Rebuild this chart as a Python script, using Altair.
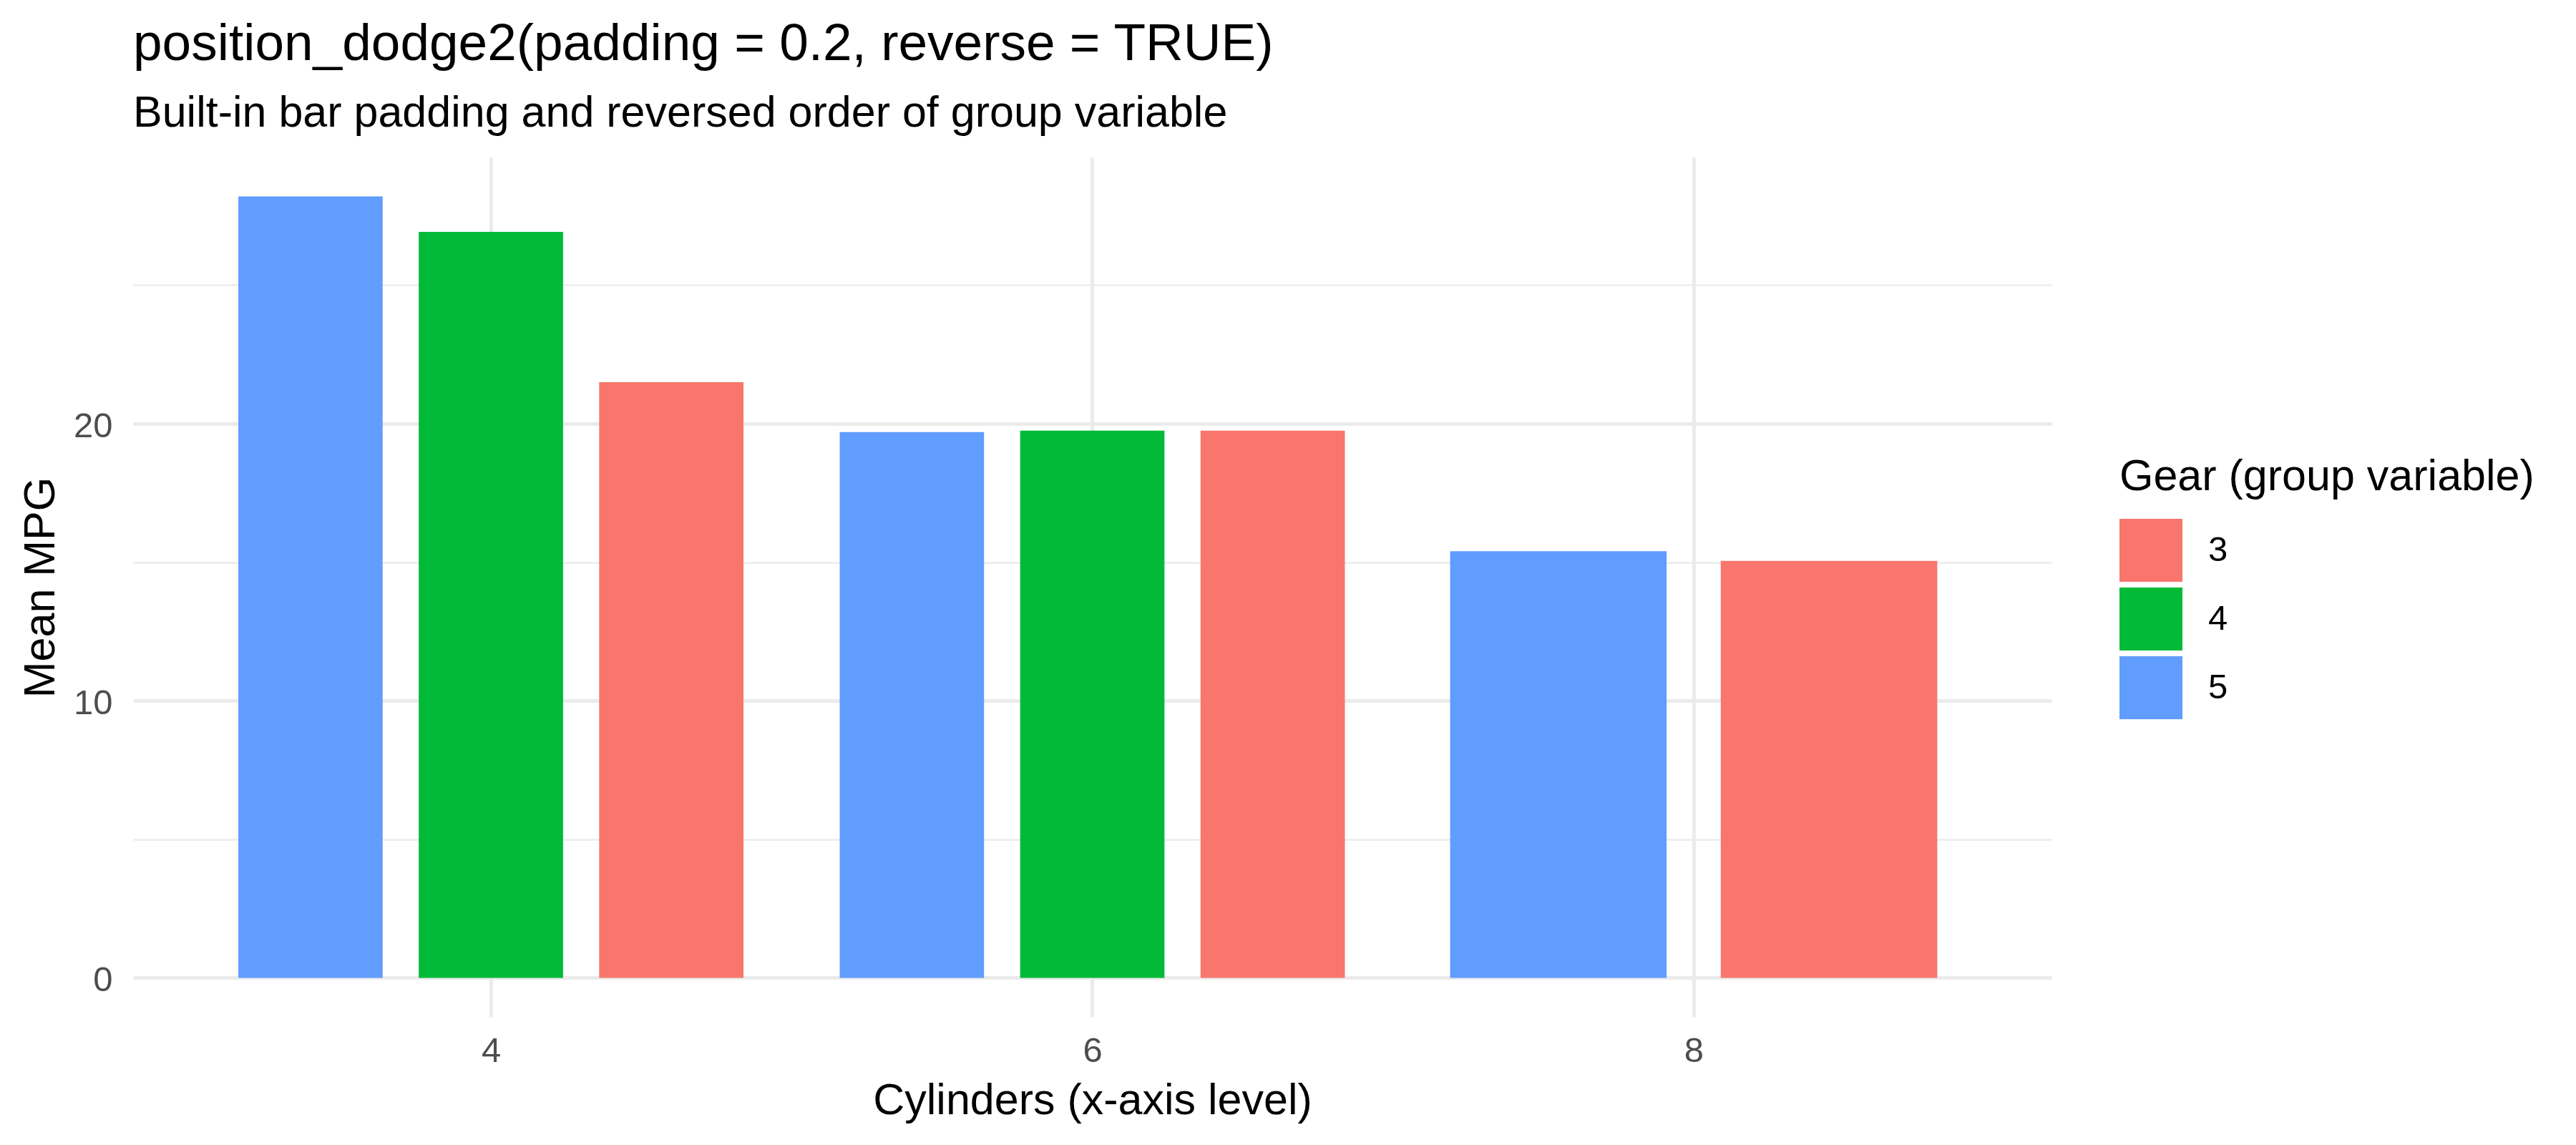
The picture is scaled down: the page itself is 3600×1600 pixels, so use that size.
import altair as alt
import pandas as pd

# data (mean mpg by cylinders and gear, mtcars)
cyl = [4, 4, 4, 6, 6, 6, 8, 8]
gear = ["3", "4", "5", "3", "4", "5", "3", "5"]
mean_mpg = [21.5, 26.925, 28.2, 19.75, 19.75, 19.7, 15.05, 15.4]

gear_levels = ["3", "4", "5"]
gear_colors = ["#F8766D", "#00BA38", "#619CFF"]

x_ticks = [4, 6, 8]
y_ticks = [0, 5, 10, 15, 20, 25]

# position_dodge2(padding = 0.2, reverse = TRUE)
TOTAL_WIDTH = 0.9 * 2   # 0.9 * resolution of x
PADDING = 0.2

df = pd.DataFrame({"cyl": cyl, "gear": gear, "mpg": mean_mpg})
parts = []
for c, g in df.groupby("cyl"):
    g = g.sort_values("gear", ascending=False).reset_index(drop=True)
    n = len(g)
    slot = TOTAL_WIDTH / n
    centers = [c - TOTAL_WIDTH / 2 + (i + 0.5) * slot for i in range(n)]
    half = slot * (1 - PADDING) / 2
    g["xmin"] = [m - half for m in centers]
    g["xmax"] = [m + half for m in centers]
    parts.append(g)
bars = pd.concat(parts, ignore_index=True)

# ggplot-style 5% expansion of the (unpadded) group ranges
x_lo = min(cyl) - TOTAL_WIDTH / 2
x_hi = max(cyl) + TOTAL_WIDTH / 2
x_pad = 0.05 * (x_hi - x_lo)
y_hi = max(mean_mpg)
y_pad = 0.05 * y_hi

FONT = "Liberation Sans"
PLOT_W, PLOT_H = 2681, 1201

chart = (
    alt.Chart(bars)
    .mark_bar(cornerRadius=0, strokeWidth=0)
    .encode(
        x=alt.X(
            "xmin:Q",
            scale=alt.Scale(domain=[x_lo - x_pad, x_hi + x_pad], nice=False, zero=False),
            axis=alt.Axis(
                values=x_ticks,
                title="Cylinders (x-axis level)",
                grid=True,
                gridColor="#EBEBEB",
                gridWidth=5,
                domain=False,
                ticks=False,
                tickSize=0,
                labelPadding=23,
                labelFontSize=49,
                labelColor="#4D4D4D",
                labelFont=FONT,
                titleFont=FONT,
                titleFontSize=61,
                titleFontWeight="normal",
                titleColor="black",
                titleBaseline="alphabetic",
                titleX=PLOT_W / 2,
                titleY=135,
                titleAlign="center",
            ),
        ),
        x2="xmax:Q",
        y=alt.Y(
            "mpg:Q",
            scale=alt.Scale(domain=[-y_pad, y_hi + y_pad], nice=False, zero=False),
            axis=alt.Axis(
                values=y_ticks,
                title="Mean MPG",
                grid=True,
                gridColor="#EBEBEB",
                gridWidth={"condition": {"test": "datum.value % 10 === 0", "value": 5}, "value": 2.5},
                labelExpr="datum.value % 10 === 0 ? datum.label : ''",
                domain=False,
                ticks=False,
                tickSize=0,
                labelPadding=29,
                labelOffset=3,
                labelFontSize=49,
                labelColor="#4D4D4D",
                labelFont=FONT,
                titleFont=FONT,
                titleFontSize=61,
                titleFontWeight="normal",
                titleColor="black",
                titleBaseline="alphabetic",
                titleAngle=270,
                titleX=-111,
                titleY=PLOT_H / 2,
                titleAlign="center",
            ),
        ),
        y2=alt.datum(0),
        color=alt.Color(
            "gear:N",
            scale=alt.Scale(domain=gear_levels, range=gear_colors),
            legend=alt.Legend(
                title="Gear (group variable)",
                orient="none",
                legendX=2776,
                legendY=417,
                padding=0,
                symbolType="square",
                symbolSize=7744,
                symbolStrokeWidth=0,
                symbolOpacity=1,
                rowPadding=8,
                labelOffset=36,
                labelFontSize=49,
                labelFont=FONT,
                labelColor="black",
                titleFont=FONT,
                titleFontSize=61,
                titleFontWeight="normal",
                titleColor="black",
                titlePadding=27,
                titleLimit=3000,
                labelLimit=3000,
            ),
        ),
    )
    .properties(
        width=PLOT_W,
        height=PLOT_H,
        title=alt.TitleParams(
            text="position_dodge2(padding = 0.2, reverse = TRUE)",
            subtitle="Built-in bar padding and reversed order of group variable",
            anchor="start",
            frame="group",
            font=FONT,
            fontSize=73,
            fontWeight="normal",
            color="black",
            subtitleFont=FONT,
            subtitleFontSize=61,
            subtitleColor="black",
            subtitlePadding=30,
            offset=31,
        ),
        autosize=alt.AutoSizeParams(type="none"),
        padding={"left": 178, "top": 212, "right": 725, "bottom": 171},
        background="white",
    )
    .configure_view(stroke=None)
)

chart.save("out.html", embed_options={"renderer": "svg", "actions": False})
